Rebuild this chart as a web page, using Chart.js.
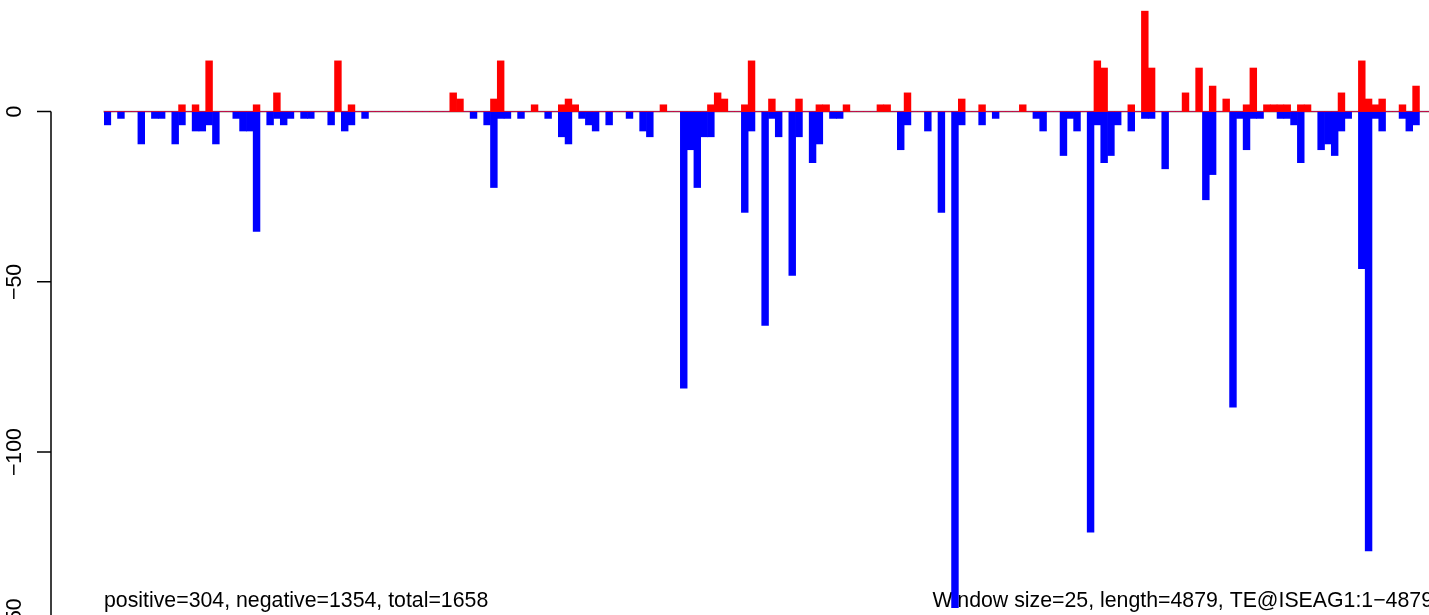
<!DOCTYPE html>
<html>
<head>
<meta charset="utf-8">
<script src="https://cdn.jsdelivr.net/npm/chart.js@4"></script>
<style>
  html, body { margin: 0; padding: 0; background: #fff; overflow: hidden; }
  canvas { display: block; }
</style>
</head>
<body>
<canvas id="chart" width="1440" height="640" style="width:1440px;height:640px"></canvas>
<script>
// windows of 25 bp along the 4879 bp element
const windowSize = 25;
const windowStarts = Array.from({ length: 196 }, (_, i) => i * windowSize + 1);

// reads on the positive strand (red, above zero)
const positive = [
  0, 0, 0, 0, 0, 0, 0, 0, 0, 0,
  0, 2, 0, 2, 0, 14.9, 0, 0, 0, 0,
  0, 0, 2, 0, 0, 5.5, 0, 0, 0, 0,
  0, 0, 0, 0, 14.9, 0, 2, 0, 0, 0,
  0, 0, 0, 0, 0, 0, 0, 0, 0, 0,
  0, 5.5, 3.7, 0, 0, 0, 0, 3.7, 14.9, 0,
  0, 0, 0, 2, 0, 0, 0, 2, 3.7, 2,
  0, 0, 0, 0, 0, 0, 0, 0, 0, 0,
  0, 0, 2, 0, 0, 0, 0, 0, 0, 2,
  5.5, 3.7, 0, 0, 2, 14.9, 0, 0, 3.7, 0,
  0, 0, 3.7, 0, 0, 2, 2, 0, 0, 2,
  0, 0, 0, 0, 2, 2, 0, 0, 5.5, 0,
  0, 0, 0, 0, 0, 0, 3.7, 0, 0, 2,
  0, 0, 0, 0, 0, 2, 0, 0, 0, 0,
  0, 0, 0, 0, 0, 0, 14.9, 12.8, 0, 0,
  0, 2, 0, 29.5, 12.8, 0, 0, 0, 0, 5.5,
  0, 12.8, 0, 7.5, 0, 3.7, 0, 0, 2, 12.8,
  0, 2, 2, 2, 2, 0, 2, 2, 0, 0,
  0, 0, 5.5, 0, 0, 14.9, 3.7, 2, 3.7, 0,
  0, 2, 0, 7.5, 0, 0
];

// reads on the negative strand (blue, below zero)
const negative = [
  -3.9, 0, -2, 0, 0, -9.5, 0, -2, -2, 0,
  -9.5, -3.9, 0, -5.7, -5.7, -3.9, -9.5, 0, 0, -2,
  -5.7, -5.7, -35.2, 0, -3.9, -2, -3.9, -2, 0, -2,
  -2, 0, 0, -3.9, 0, -5.7, -3.9, 0, -2, 0,
  0, 0, 0, 0, 0, 0, 0, 0, 0, 0,
  0, 0, 0, 0, -2, 0, -3.9, -22.3, -2, -2,
  0, -2, 0, 0, 0, -2, 0, -7.4, -9.5, 0,
  -2, -3.9, -5.7, 0, -3.9, 0, 0, -2, 0, -5.7,
  -7.4, 0, 0, 0, 0, -81.2, -11.2, -22.3, -7.4, -7.4,
  0, 0, 0, 0, -29.6, -5.7, 0, -62.8, -2, -7.4,
  0, -48.1, -7.4, 0, -15, -9.5, 0, -2, -2, 0,
  0, 0, 0, 0, 0, 0, 0, -11.2, -3.9, 0,
  0, -5.7, 0, -29.6, 0, -145.7, -3.9, 0, 0, -3.9,
  0, -2, 0, 0, 0, 0, 0, -2, -5.7, 0,
  0, -12.9, -2, -5.7, 0, -123.5, -3.9, -15, -12.9, -3.9,
  0, -5.7, 0, -2, -2, 0, -16.8, 0, 0, 0,
  0, 0, -25.9, -18.5, 0, 0, -86.8, -2, -11.2, -2,
  -2, 0, 0, -2, -2, -3.9, -15, 0, 0, -11.2,
  -9.5, -12.9, -5.7, -2, 0, -46.1, -129, -2, -5.7, 0,
  0, -2, -5.7, -3.9, 0, 0
];

const yTicks = [0, -50, -100, -150];
const summaryText = 'positive=304, negative=1354, total=1658';
const infoText = 'Window size=25, length=4879, TE@ISEAG1:1\u22124879';

const FONT = '21.3px "Liberation Sans", Arial, sans-serif';

// text, zero line and the left axis (drawn the R way, away from the bars)
const decorations = {
  id: 'decorations',
  beforeDatasetsDraw(chart) {
    const { ctx, chartArea, scales: { y } } = chart;
    const y0 = y.getPixelForValue(0);
    ctx.save();
    ctx.strokeStyle = '#a0a0a0';
    ctx.lineWidth = 1.7;
    ctx.beginPath();
    ctx.moveTo(chartArea.left - 0.7, y0);
    ctx.lineTo(chartArea.right, y0);
    ctx.stroke();

    ctx.fillStyle = '#000';
    ctx.font = FONT;
    ctx.textBaseline = 'alphabetic';
    ctx.textAlign = 'left';
    ctx.fillText(summaryText, chartArea.left, 607);
    ctx.textAlign = 'right';
    ctx.fillText(infoText, chartArea.right, 607);

    // y axis
    const axisX = 51;
    ctx.strokeStyle = '#000';
    ctx.lineWidth = 1.5;
    ctx.beginPath();
    ctx.moveTo(axisX, y.getPixelForValue(yTicks[0]));
    ctx.lineTo(axisX, y.getPixelForValue(yTicks[yTicks.length - 1]));
    yTicks.forEach(t => {
      const py = y.getPixelForValue(t);
      ctx.moveTo(axisX, py);
      ctx.lineTo(37, py);
    });
    ctx.stroke();
    ctx.textAlign = 'center';
    yTicks.forEach(t => {
      const py = y.getPixelForValue(t);
      ctx.save();
      ctx.translate(21, py);
      ctx.rotate(-Math.PI / 2);
      ctx.fillText(String(t).replace('-', '\u2212'), 0, 0);
      ctx.restore();
    });
    ctx.restore();
  }
};

const zeroY = 111.6;
const pxPerUnit = 3.405;
const canvasH = 640;
const yMax = zeroY / pxPerUnit;
const yMin = yMax - canvasH / pxPerUnit;

new Chart(document.getElementById('chart'), {
  type: 'bar',
  data: {
    labels: windowStarts,
    datasets: [
      { label: 'positive', data: positive, backgroundColor: '#ff0000' },
      { label: 'negative', data: negative, backgroundColor: '#0000ff' },
    ],
  },
  options: {
    responsive: false,
    animation: false,
    devicePixelRatio: 1,
    layout: { padding: { left: 104, right: 7, top: 0, bottom: 0 } },
    datasets: {
      bar: { grouped: false, barPercentage: 1, categoryPercentage: 1, borderWidth: 0 },
    },
    plugins: { legend: { display: false }, tooltip: { enabled: false } },
    scales: {
      x: { display: false, grid: { display: false } },
      y: { display: false, min: yMin, max: yMax, grid: { display: false } },
    },
  },
  plugins: [decorations],
});
</script>
</body>
</html>
